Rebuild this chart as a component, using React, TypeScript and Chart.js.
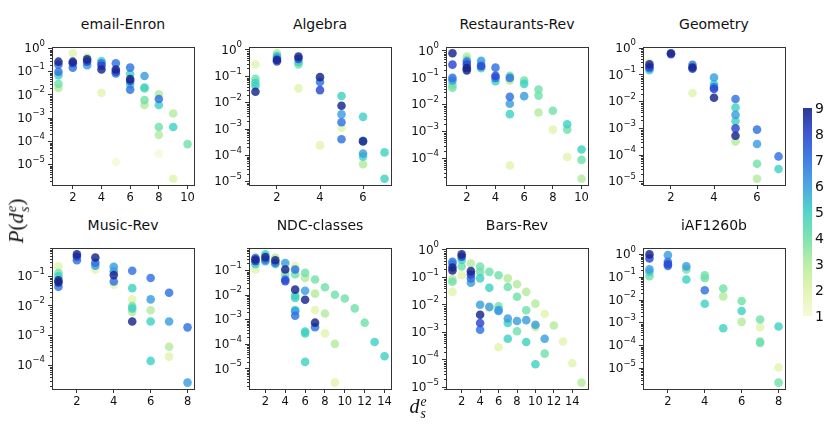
import React, { useEffect, useRef } from 'react';
import { Chart, registerables } from 'chart.js';

Chart.register(...registerables);

// [d_s^e, P(d_s^e), colour level]
type Pt = [number, number, number];

const emailEnron: Pt[] = [
  [1, 0.27, 9], [1, 0.2, 7], [1, 0.1, 7], [1, 0.07, 5], [1, 0.03, 4], [1, 0.02, 3],
  [2, 0.62, 2], [2, 0.27, 9], [2, 0.23, 8], [2, 0.15, 7],
  [3, 0.41, 3], [3, 0.34, 9], [3, 0.27, 8], [3, 0.19, 6],
  [4, 0.29, 5], [4, 0.23, 7], [4, 0.18, 8], [4, 0.125, 9], [4, 0.0125, 2],
  [5, 0.23, 7], [5, 0.125, 9], [5, 0.1, 8], [5, 0.085, 7], [5, 1.3e-5, 1],
  [6, 0.15, 7], [6, 0.08, 5], [6, 0.048, 9], [6, 0.04, 8], [6, 0.028, 5], [6, 0.017, 7],
  [7, 0.065, 6], [7, 0.021, 5], [7, 0.019, 4], [7, 0.006, 4], [7, 0.0037, 3],
  [8, 0.0106, 3], [8, 0.0067, 7], [8, 0.0037, 5], [8, 0.00042, 4], [8, 0.00019, 3], [8, 3e-5, 1],
  [9, 0.0016, 3], [9, 0.00042, 5], [9, 2.5e-6, 2],
  [10, 7.7e-5, 4],
];

const algebra: Pt[] = [
  [1, 0.28, 2], [1, 0.081, 4], [1, 0.057, 5], [1, 0.043, 5], [1, 0.026, 9],
  [2, 0.75, 3], [2, 0.6, 5], [2, 0.52, 6], [2, 0.42, 9], [2, 0.37, 8],
  [3, 0.56, 9], [3, 0.46, 8], [3, 0.35, 5], [3, 0.28, 4], [3, 0.035, 2],
  [4, 0.093, 9], [4, 0.061, 7], [4, 0.03, 8], [4, 0.00024, 2],
  [5, 0.018, 5], [5, 0.0076, 9], [5, 0.0036, 6], [5, 0.0018, 7], [5, 0.0011, 2], [5, 0.00041, 7],
  [6, 0.0029, 5], [6, 0.00036, 6], [6, 0.00034, 9], [6, 0.000117, 6], [6, 9e-5, 5], [6, 4.6e-5, 3],
  [7, 0.00013, 5], [7, 1.3e-5, 5],
];

const restaurantsRev: Pt[] = [
  [1, 0.82, 9], [1, 0.31, 8], [1, 0.1, 7], [1, 0.08, 6], [1, 0.056, 4], [1, 0.043, 4],
  [2, 0.62, 3], [2, 0.47, 4], [2, 0.4, 7], [2, 0.31, 8], [2, 0.23, 9], [2, 0.19, 9],
  [3, 0.43, 6], [3, 0.31, 6], [3, 0.27, 8], [3, 0.23, 5],
  [4, 0.24, 7], [4, 0.12, 8], [4, 0.1, 7], [4, 0.075, 5],
  [5, 0.12, 4], [5, 0.1, 7], [5, 0.08, 3], [5, 0.02, 7], [5, 0.011, 6], [5, 0.0045, 5], [5, 5.6e-5, 2],
  [6, 0.08, 4], [6, 0.06, 5], [6, 0.021, 6],
  [7, 0.037, 4], [7, 0.022, 4], [7, 0.0052, 3],
  [8, 0.006, 4], [8, 0.0012, 2],
  [9, 0.0019, 5], [9, 0.0012, 4], [9, 0.000115, 2],
  [10, 0.00022, 5], [10, 9e-5, 4], [10, 1.8e-5, 3],
];

const geometry: Pt[] = [
  [1, 0.29, 2], [1, 0.25, 9], [1, 0.2, 8], [1, 0.18, 7], [1, 0.15, 5],
  [2, 0.65, 9], [2, 0.6, 8],
  [3, 0.24, 7], [3, 0.19, 9], [3, 0.17, 8], [3, 0.021, 2],
  [4, 0.08, 6], [4, 0.046, 5], [4, 0.035, 7], [4, 0.03, 8], [4, 0.014, 9],
  [5, 0.0126, 7], [5, 0.006, 5], [5, 0.0032, 6], [5, 0.0019, 5], [5, 0.001, 8], [5, 0.00053, 9], [5, 0.00032, 3],
  [6, 0.0009, 7], [6, 0.00026, 6], [6, 4.7e-5, 4], [6, 1.3e-5, 3],
  [7, 8.9e-5, 7], [7, 3e-5, 5],
];

const musicRev: Pt[] = [
  [1, 0.22, 2], [1, 0.13, 4], [1, 0.1, 5], [1, 0.073, 9], [1, 0.062, 9], [1, 0.045, 7],
  [2, 0.55, 9], [2, 0.46, 8], [2, 0.35, 7],
  [3, 0.43, 9], [3, 0.29, 7], [3, 0.23, 6], [3, 0.17, 2],
  [4, 0.21, 6], [4, 0.15, 6], [4, 0.11, 9], [4, 0.067, 7], [4, 0.052, 2],
  [5, 0.155, 7], [5, 0.04, 5], [5, 0.0167, 2], [5, 0.01, 4], [5, 0.0082, 5], [5, 0.0063, 3], [5, 0.003, 9],
  [6, 0.088, 7], [6, 0.0167, 6], [6, 0.0072, 3], [6, 0.003, 5], [6, 0.00014, 5],
  [7, 0.028, 7], [7, 0.003, 6], [7, 0.00042, 3], [7, 0.000196, 2],
  [8, 0.0019, 7], [8, 2.6e-5, 6],
];

const ndcClasses: Pt[] = [
  [1, 0.33, 7], [1, 0.28, 9], [1, 0.24, 8], [1, 0.18, 5], [1, 0.11, 2],
  [2, 0.45, 5], [2, 0.35, 9], [2, 0.28, 7], [2, 0.24, 6],
  [3, 0.33, 3], [3, 0.26, 9], [3, 0.2, 7], [3, 0.18, 4],
  [4, 0.2, 6], [4, 0.11, 9], [4, 0.07, 4], [4, 0.043, 7], [4, 0.037, 8],
  [5, 0.15, 2], [5, 0.11, 7], [5, 0.07, 4], [5, 0.0167, 9], [5, 0.0095, 5], [5, 0.0076, 5],
  [5, 0.0025, 5], [5, 0.0022, 6], [5, 0.00145, 7],
  [6, 0.08, 4], [6, 0.05, 3], [6, 0.015, 6], [6, 0.0065, 9], [6, 0.00033, 5], [6, 0.00028, 5], [6, 1.95e-5, 5],
  [7, 0.043, 4], [7, 0.0115, 3], [7, 0.0025, 2], [7, 0.00076, 9], [7, 0.0005, 7],
  [8, 0.021, 4], [8, 0.0018, 3], [8, 0.00028, 2],
  [9, 0.0104, 4], [9, 0.000105, 3], [9, 2.8e-6, 2],
  [10, 0.0073, 4], [11, 0.0029, 4], [12, 0.00076, 4], [13, 0.000125, 5], [14, 3.3e-5, 5],
];

const barsRev: Pt[] = [
  [1, 0.37, 7], [1, 0.31, 6], [1, 0.23, 9], [1, 0.18, 9], [1, 0.085, 3], [1, 0.07, 4], [1, 0.03, 2],
  [2, 0.69, 9], [2, 0.57, 8], [2, 0.43, 5], [2, 0.25, 4], [2, 0.12, 2],
  [3, 0.32, 3], [3, 0.17, 9], [3, 0.13, 8], [3, 0.093, 7], [3, 0.064, 6],
  [4, 0.25, 4], [4, 0.16, 4], [4, 0.093, 5], [4, 0.0102, 6], [4, 0.0044, 9], [4, 0.0022, 8], [4, 0.00126, 7],
  [5, 0.16, 4], [5, 0.042, 5], [5, 0.0085, 6], [5, 0.0077, 2],
  [6, 0.12, 4], [6, 0.0089, 4], [6, 0.0065, 6], [6, 0.006, 6], [6, 0.00029, 2],
  [7, 0.093, 3], [7, 0.045, 4], [7, 0.0032, 6], [7, 0.0022, 5], [7, 0.00059, 5],
  [8, 0.057, 3], [8, 0.02, 4], [8, 0.0026, 6], [8, 0.0011, 4],
  [9, 0.03, 3], [9, 0.0064, 4], [9, 0.0028, 6], [9, 0.00045, 5],
  [10, 0.0112, 3], [10, 0.0019, 6], [10, 0.0016, 3], [10, 7e-5, 5],
  [11, 0.0048, 2], [11, 0.00059, 6], [11, 0.00017, 4],
  [12, 0.0018, 3], [13, 0.00047, 2], [14, 7.6e-5, 2], [15, 1.5e-5, 3],
];

const iaf1260b: Pt[] = [
  [1, 1.0, 9], [1, 0.67, 8], [1, 0.22, 6], [1, 0.17, 5], [1, 0.11, 4],
  [2, 0.93, 6], [2, 0.47, 7], [2, 0.37, 8], [2, 0.31, 7],
  [3, 0.3, 6], [3, 0.22, 4], [3, 0.079, 5],
  [4, 0.12, 4], [4, 0.09, 4], [4, 0.027, 7], [4, 0.0069, 5],
  [5, 0.032, 4], [5, 0.0145, 3], [5, 0.00058, 5],
  [6, 0.009, 4], [6, 0.0033, 5], [6, 0.0011, 3],
  [7, 0.0014, 4], [7, 0.00064, 2], [7, 0.00015, 4], [7, 0.00013, 4],
  [8, 0.00069, 5], [8, 1.1e-5, 2], [8, 2.4e-6, 4],
];

const panelTitles = ['email-Enron', 'Algebra', 'Restaurants-Rev', 'Geometry', 'Music-Rev', 'NDC-classes', 'Bars-Rev', 'iAF1260b'];
const panelData = [emailEnron, algebra, restaurantsRev, geometry, musicRev, ndcClasses, barsRev, iaf1260b];
const colorbarTicks = [1, 2, 3, 4, 5, 6, 7, 8, 9];

// colour for levels 1..9
const levelColors = ['#f5fad6', '#e0f4ae', '#b4ec9e', '#72e0aa', '#40d2c2', '#3a9ee0', '#2e72e2', '#2a46d2', '#16258a'];

const COL_LEFT = [52, 249, 446, 643];
const ROW_TOP = [47, 248];
const ROW_H = [138, 141];
const BOX_W = 142;
const Y_AXIS_W = 46;
const X_AXIS_H = 22;
const PAD = 10;
const FONT = '"DejaVu Sans", sans-serif';

function hexToRgba(hex: string, a: number) {
  const v = parseInt(hex.slice(1), 16);
  return `rgba(${(v >> 16) & 255},${(v >> 8) & 255},${v & 255},${a})`;
}

// frame, minor log ticks and 10^k labels drawn by hand
const framePlugin = {
  id: 'frame',
  afterDraw(chart: any) {
    const { ctx, chartArea: a, scales } = chart;
    ctx.save();
    ctx.strokeStyle = '#333';
    ctx.lineWidth = 1;
    ctx.strokeRect(Math.round(a.left) + 0.5, Math.round(a.top) + 0.5, Math.round(a.right - a.left), Math.round(a.bottom - a.top));

    const y = scales.y;
    const lo = Math.floor(Math.log10(y.min));
    const hi = Math.ceil(Math.log10(y.max));
    ctx.beginPath();
    for (let k = lo; k <= hi; k++) {
      for (let m = 2; m <= 9; m++) {
        const v = m * Math.pow(10, k);
        if (v <= y.min || v >= y.max) continue;
        const py = Math.round(y.getPixelForValue(v)) + 0.5;
        ctx.moveTo(a.left, py);
        ctx.lineTo(a.left - 2, py);
      }
    }
    ctx.stroke();

    ctx.fillStyle = '#111';
    ctx.textBaseline = 'middle';
    const right = a.left - 7;
    for (const t of y.ticks) {
      const py = y.getPixelForValue(t.value);
      const exp = String(Math.round(Math.log10(t.value))).replace('-', '\u2212');
      ctx.font = `8.5px ${FONT}`;
      const ew = ctx.measureText(exp).width;
      ctx.textAlign = 'left';
      ctx.fillText(exp, right - ew, py - 5);
      ctx.font = `12px ${FONT}`;
      ctx.textAlign = 'right';
      ctx.fillText('10', right - ew, py + 0.5);
    }
    ctx.restore();
  },
};

interface PanelProps {
  title: string;
  points: Pt[];
  left: number;
  top: number;
  width: number;
  height: number;
}

function Panel({ title, points, left, top, width, height }: PanelProps) {
  const canvasRef = useRef<HTMLCanvasElement | null>(null);

  useEffect(() => {
    if (!canvasRef.current) return;
    const sorted = [...points].sort((a, b) => a[2] - b[2]);
    const xs = sorted.map((p) => p[0]);
    const ls = sorted.map((p) => Math.log10(p[1]));
    const x0 = Math.min(...xs), x1 = Math.max(...xs);
    const xm = (x1 - x0) * 0.05;
    const l0 = Math.min(...ls), l1 = Math.max(...ls);
    const lm = (l1 - l0) * 0.05;
    const yLo = l0 - lm, yHi = l1 + lm;

    const xTicks: number[] = [];
    for (let v = 2; v <= x1 + xm; v += 2) xTicks.push(v);
    const yTicks: number[] = [];
    for (let k = Math.ceil(yLo); k <= Math.floor(yHi); k++) {
      if (k > yLo + 0.01 && k < yHi - 0.01) yTicks.push(Math.pow(10, k));
    }

    const chart = new Chart(canvasRef.current, {
      type: 'scatter',
      data: {
        datasets: [
          {
            data: sorted.map((p) => ({ x: p[0], y: p[1] })),
            pointBackgroundColor: sorted.map((p) => hexToRgba(levelColors[p[2] - 1], 0.82)),
            pointBorderWidth: 0,
            pointRadius: 4.3,
            pointHoverRadius: 4.3,
          },
        ],
      },
      options: {
        animation: false,
        responsive: false,
        events: [],
        layout: { padding: { top: PAD, right: PAD, left: 0, bottom: 0 } },
        plugins: { legend: { display: false }, tooltip: { enabled: false } },
        scales: {
          x: {
            type: 'linear',
            bounds: 'data',
            min: x0 - xm,
            max: x1 + xm,
            afterBuildTicks: (s: any) => {
              s.ticks = xTicks.map((v) => ({ value: v }));
            },
            afterFit: (s: any) => {
              s.height = X_AXIS_H;
            },
            grid: { drawOnChartArea: false, drawTicks: true, tickLength: 4, tickColor: '#333' },
            border: { display: false },
            ticks: { color: '#111', font: { family: FONT, size: 11.5 }, padding: 2, maxRotation: 0, autoSkip: false },
          },
          y: {
            type: 'logarithmic',
            bounds: 'data',
            min: Math.pow(10, yLo),
            max: Math.pow(10, yHi),
            afterBuildTicks: (s: any) => {
              s.ticks = yTicks.map((v) => ({ value: v, major: true }));
            },
            afterFit: (s: any) => {
              s.width = Y_AXIS_W;
            },
            grid: { drawOnChartArea: false, drawTicks: true, tickLength: 4, tickColor: '#333' },
            border: { display: false },
            ticks: { display: false },
          },
        },
      },
      plugins: [framePlugin],
    } as any);

    return () => chart.destroy();
  }, [points]);

  return (
    <>
      <div
        style={{
          position: 'absolute',
          left: left - 20,
          top: top - 31,
          width: width + 40,
          textAlign: 'center',
          fontFamily: FONT,
          fontSize: 14,
          lineHeight: '16px',
          color: '#111',
          whiteSpace: 'nowrap',
        }}
      >
        {title}
      </div>
      <canvas
        ref={canvasRef}
        width={width + Y_AXIS_W + PAD}
        height={height + PAD + X_AXIS_H}
        style={{ position: 'absolute', left: left - Y_AXIS_W, top: top - PAD }}
      />
    </>
  );
}

function MathD() {
  return (
    <span style={{ whiteSpace: 'nowrap' }}>
      <i>d</i>
      <span
        style={{
          display: 'inline-flex',
          flexDirection: 'column',
          fontSize: '0.68em',
          lineHeight: 0.95,
          verticalAlign: 'middle',
          marginLeft: 1,
        }}
      >
        <i>e</i>
        <i>s</i>
      </span>
    </span>
  );
}

export default function App() {
  const cbTop = 108;
  const cbBottom = 316;
  const gradient = `linear-gradient(to top, ${levelColors
    .map((c, i) => `${c} ${(i / (levelColors.length - 1)) * 100}%`)
    .join(', ')})`;

  return (
    <div
      style={{
        position: 'fixed',
        left: 0,
        top: 0,
        width: 831,
        height: 424,
        background: '#fff',
        overflow: 'hidden',
      }}
    >
      {panelData.map((pts, i) => (
        <Panel
          key={panelTitles[i]}
          title={panelTitles[i]}
          points={pts}
          left={COL_LEFT[i % 4]}
          top={ROW_TOP[Math.floor(i / 4)]}
          width={BOX_W}
          height={ROW_H[Math.floor(i / 4)]}
        />
      ))}

      {/* y label */}
      <div
        style={{
          position: 'absolute',
          left: 18,
          top: 221,
          transform: 'translate(-50%, -50%) rotate(-90deg)',
          fontFamily: '"Liberation Serif", serif',
          fontSize: 21,
          color: '#111',
          whiteSpace: 'nowrap',
        }}
      >
        <i>P</i>(<MathD />)
      </div>

      {/* x label */}
      <div
        style={{
          position: 'absolute',
          left: 418,
          top: 408,
          transform: 'translate(-50%, -50%)',
          fontFamily: '"Liberation Serif", serif',
          fontSize: 20,
          color: '#111',
        }}
      >
        <MathD />
      </div>

      {/* colour bar */}
      <div
        style={{
          position: 'absolute',
          left: 803,
          top: cbTop,
          width: 9,
          height: cbBottom - cbTop,
          background: gradient,
          opacity: 0.9,
        }}
      />
      {colorbarTicks.map((t) => (
        <div
          key={t}
          style={{
            position: 'absolute',
            left: 815,
            top: cbBottom - ((t - 1) / 8) * (cbBottom - cbTop) - 9,
            fontFamily: FONT,
            fontSize: 14,
            lineHeight: '18px',
            color: '#111',
          }}
        >
          {t}
        </div>
      ))}
    </div>
  );
}
